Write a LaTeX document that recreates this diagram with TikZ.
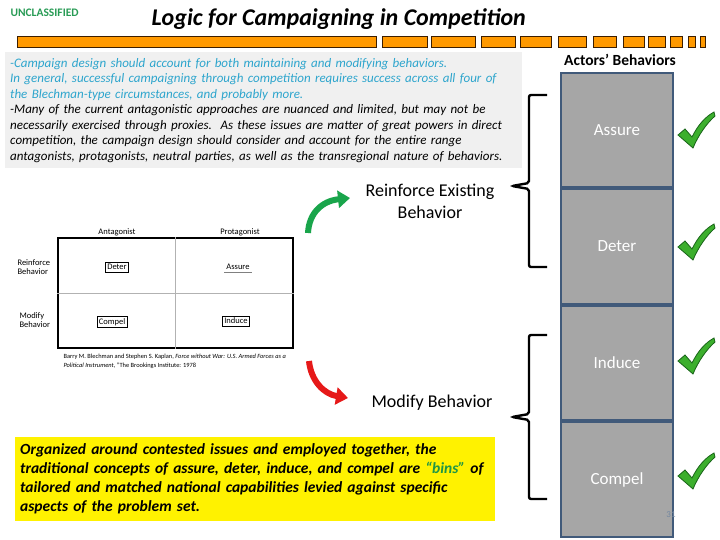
\documentclass[tikz,border=0pt]{standalone}
\usepackage{fontspec}
\setmainfont{Carlito}
\usepackage{tikz}
\usetikzlibrary{arrows.meta,positioning}

\definecolor{unclassgreen}{RGB}{40,155,85}
\definecolor{barorange}{RGB}{255,153,0}
\definecolor{barline}{RGB}{60,30,0}
\definecolor{introgray}{RGB}{240,240,240}
\definecolor{introblue}{RGB}{45,165,205}
\definecolor{actorfill}{RGB}{166,166,166}
\definecolor{actorline}{RGB}{65,90,122}
\definecolor{checkgreen}{RGB}{60,175,45}
\definecolor{checkdark}{RGB}{25,100,25}
\definecolor{upgreen}{RGB}{25,165,75}
\definecolor{downred}{RGB}{230,25,25}
\definecolor{binsgreen}{RGB}{30,150,70}
\definecolor{pagegray}{RGB}{115,135,160}

\begin{document}
\begin{tikzpicture}[x=1pt,y=-1pt,
    actor/.style={draw=actorline,line width=2pt,fill=actorfill,text=white,
      minimum width=112pt,minimum height=114.5pt,font=\fontsize{17}{20}\selectfont},
    brace/.style={line width=2.4pt,rounded corners=2pt},
    bigarrow/.style={line width=6pt,-{Triangle[width=17pt,length=12pt]}},
    cell/.style={draw,font=\fontsize{8.5}{9}\selectfont,inner sep=2pt},
    tiny/.style={font=\fontsize{8.5}{9.5}\selectfont,align=left}]
\useasboundingbox (0,0) rectangle (720,540);

% header
\node[anchor=west,text=unclassgreen,font=\bfseries\fontsize{11.5}{13}\selectfont] (unclass) at (7,13) {UNCLASSIFIED};
\node[anchor=west,font=\bfseries\itshape\fontsize{24}{26}\selectfont] (title) at (148,19) {Logic for Campaigning in Competition};
\foreach \xa/\xb in {17/376,382/427,431/475,481/515,520/551,558/586,593/616,623/644,648/665,670/682,688/695,700/705}
  \draw[barline,fill=barorange,line width=0.8pt] (\xa,36) rectangle (\xb,47);

% intro text
\node[anchor=north west,fill=introgray,minimum width=517pt,minimum height=116pt,
      text width=507pt,inner xsep=5pt,inner ysep=3pt,align=left,
      font=\itshape\fontsize{13}{15.5}\selectfont] (intro) at (5,52)
{\textcolor{introblue}{-Campaign design should account for both maintaining and modifying behaviors.}\\
\textcolor{introblue}{In general, successful campaigning through competition requires success across all four of}\\
\textcolor{introblue}{the Blechman-type circumstances, and probably more.}\\
-Many of the current antagonistic approaches are nuanced and limited, but may not be\\
necessarily exercised through proxies.\ \ As these issues are matter of great powers in direct\\
competition, the campaign design should consider and account for the entire range\\
antagonists, protagonists, neutral parties, as well as the transregional nature of behaviors.};

% actors' behaviors column
\node[font=\bfseries\fontsize{15.5}{17}\selectfont] (actors) at (620,60) {Actors’ Behaviors};
\node[actor] (assure) at (617,130) {Assure};
\node[actor,below=0pt of assure] (deter) {Deter};
\node[actor,below=0pt of deter] (induce) {Induce};
\node[actor,below=0pt of induce] (compel) {Compel};
\node[text=pagegray,font=\fontsize{9}{10}\selectfont] (page) at (671,515) {31};

\foreach \cy in {112,224,338,453}
  \filldraw[checkdark,fill=checkgreen,line width=0.8pt,shift={(678,\cy)}]
    (0,23) -- (7,17) -- (14,25) .. controls (20,13) and (27,5) .. (36,0)
    -- (37,4) .. controls (28,12) and (20,24) .. (15,36) -- cycle;

% braces
\draw[brace] (547,95) -- (529,95) -- (529,183) -- (512,186) -- (529,189) -- (529,267) -- (547,267);
\draw[brace] (547,335) -- (529,335) -- (529,414) -- (512,417) -- (529,420) -- (529,499) -- (547,499);

\node[align=center,font=\fontsize{18}{22}\selectfont] (reinforce) at (430,201) {Reinforce Existing\\Behavior};
\node[font=\fontsize{18}{20}\selectfont] (modify) at (432,403) {Modify Behavior};

\coordinate (upstart) at (308,233);
\coordinate (upend) at (350,198);
\coordinate (downstart) at (309,361);
\coordinate (downend) at (348,398);
\draw[bigarrow,upgreen] (upstart) .. controls (309,213) and (322,201) .. (upend);
\draw[bigarrow,downred] (downstart) .. controls (311,381) and (324,394) .. (downend);

% Blechman matrix
\node[draw,line width=1.2pt,minimum width=235pt,minimum height=110pt] (grid) at (175.5,293) {};
\draw[gray!60,line width=0.8pt] (grid.north) -- (grid.south);
\draw[gray!60,line width=0.8pt] (grid.west) -- (grid.east);
\node[tiny] (antag) at (117,232) {Antagonist};
\node[tiny] (protag) at (240,232) {Protagonist};
\node[tiny,anchor=west] (reinrow) at (14,267) {Reinforce\\Behavior};
\node[tiny,anchor=west] (modrow) at (16,320) {Modify\\Behavior};
\node[cell] (cdeter) at (117,267) {Deter};
\node[cell,draw=none] (cassure) at (238,267) {Assure};
\draw[gray,line width=0.8pt] (cassure.south west) -- (cassure.south east);
\node[cell] (ccompel) at (112,322) {Compel};
\node[cell] (cinduce) at (236,321) {Induce};
\node[anchor=north west,align=left,font=\fontsize{6.4}{9}\selectfont] (cite) at (60,351)
  {Barry M. Blechman and Stephen S. Kaplan, \textit{Force without War: U.S. Armed Forces as a}\\
   \textit{Political Instrument}, ”The Brookings Institute: 1978};

% bins box
\node[anchor=north west,fill=yellow,minimum width=478pt,minimum height=84pt,
      text width=470pt,inner xsep=5pt,align=left,
      font=\bfseries\itshape\fontsize{15.5}{19}\selectfont] (bins) at (15,437)
{Organized around contested issues and employed together, the\\
traditional concepts of assure, deter, induce, and compel are \textcolor{binsgreen}{“bins”} of\\
tailored and matched national capabilities levied against specific\\
aspects of the problem set.};
\end{tikzpicture}
\end{document}
